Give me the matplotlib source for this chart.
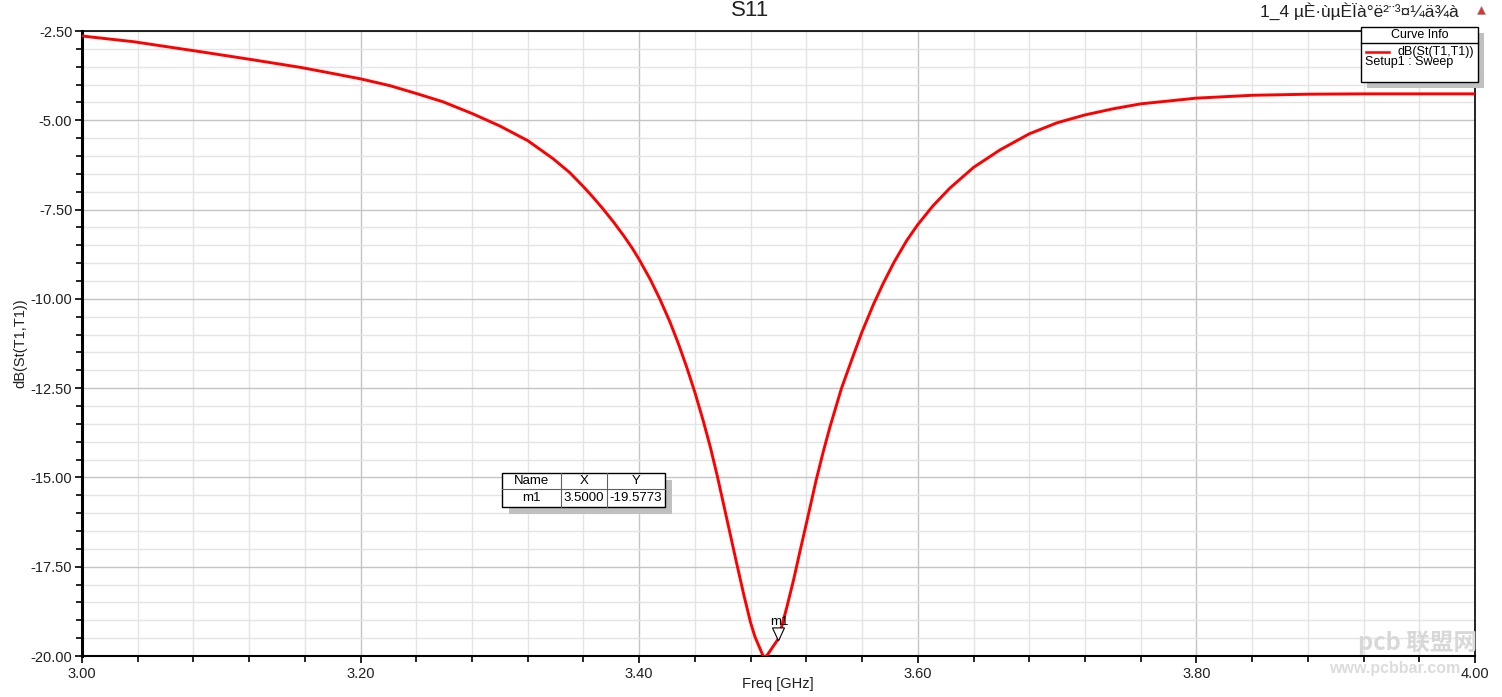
import matplotlib

matplotlib.use("Agg")
import matplotlib.pyplot as plt
from matplotlib.patches import Rectangle, Polygon
from matplotlib.ticker import MultipleLocator, FormatStrFormatter

plt.rcParams["font.family"] = ["Liberation Sans", "DejaVu Sans"]

# S11 curve
freq_ghz = [3.000, 3.037, 3.085, 3.120, 3.157, 3.180, 3.200, 3.221, 3.240, 3.259,
            3.280, 3.300, 3.320, 3.338, 3.350, 3.360, 3.367, 3.374, 3.382, 3.389,
            3.395, 3.400, 3.408, 3.415, 3.422, 3.428, 3.434, 3.440, 3.446, 3.451,
            3.456, 3.460, 3.465, 3.470, 3.475, 3.480, 3.483, 3.487, 3.4895, 3.492,
            3.500, 3.506, 3.511, 3.515, 3.520, 3.524, 3.527, 3.532, 3.537, 3.545,
            3.553, 3.560, 3.568, 3.575, 3.583, 3.592, 3.600, 3.611, 3.623, 3.640,
            3.659, 3.680, 3.700, 3.720, 3.740, 3.760, 3.800, 3.840, 3.880, 3.920,
            4.000]
s11_db = [-2.64, -2.80, -3.08, -3.29, -3.52, -3.69, -3.84, -4.03, -4.25, -4.48,
          -4.81, -5.16, -5.57, -6.07, -6.46, -6.86, -7.16, -7.48, -7.87, -8.24,
          -8.58, -8.90, -9.46, -10.02, -10.64, -11.24, -11.90, -12.62, -13.42, -14.14,
          -14.95, -15.65, -16.53, -17.41, -18.27, -19.07, -19.45, -19.82, -20.05, -19.97,
          -19.51, -18.63, -17.84, -17.14, -16.29, -15.60, -15.08, -14.30, -13.58, -12.53,
          -11.66, -10.92, -10.17, -9.58, -8.97, -8.37, -7.92, -7.39, -6.90, -6.32,
          -5.83, -5.38, -5.07, -4.85, -4.68, -4.54, -4.38, -4.30, -4.27, -4.26,
          -4.26]

marker_name = "m1"
marker_x = 3.5000
marker_y = -19.5773

W, H = 1502, 697
fig = plt.figure(figsize=(W / 100, H / 100), dpi=100)
fig.patch.set_facecolor("white")

# pixel frame of the plot area
L, R, T, B = 82, 1475, 31, 656
ax = fig.add_axes([L / W, 1 - B / H, (R - L) / W, (B - T) / H])
ax.plot(freq_ghz, s11_db, color="#ff0000", lw=2.1, zorder=3, solid_joinstyle="round")
ax.set_xlim(3.0, 4.0)
ax.set_ylim(-20.0, -2.5)

ax.xaxis.set_major_locator(MultipleLocator(0.2))
ax.xaxis.set_minor_locator(MultipleLocator(0.04))
ax.yaxis.set_major_locator(MultipleLocator(2.5))
ax.yaxis.set_minor_locator(MultipleLocator(0.5))
ax.xaxis.set_major_formatter(FormatStrFormatter("%.2f"))
ax.yaxis.set_major_formatter(FormatStrFormatter("%.2f"))

ax.grid(which="major", color="#c4c4c4", lw=1.0)
ax.grid(which="minor", color="#e4e4e4", lw=1.0)
ax.set_axisbelow(True)

ax.tick_params(which="major", direction="out", length=5, width=1.2, color="black",
               labelsize=10.5, labelcolor="#202020", pad=2)
ax.tick_params(which="minor", direction="out", length=4, width=1.2, color="black")
ax.tick_params(axis="x", pad=3)

for side, w in (("left", 2.2), ("bottom", 1.5), ("top", 1.2), ("right", 1.2)):
    ax.spines[side].set_linewidth(w)
    ax.spines[side].set_color("black")

# overlay in pixel coordinates for labels and annotation boxes
ov = fig.add_axes([0, 0, 1, 1], facecolor="none")
ov.set_xlim(0, W)
ov.set_ylim(H, 0)
ov.axis("off")

ov.text(778, 684, "Freq [GHz]", fontsize=10.5, ha="center", va="center", color="#202020")
ov.text(20, 343, "dB(St(T1,T1))", fontsize=10.5, ha="center", va="center", rotation=90,
        color="#202020")

ov.text(750, 11, "S11", fontsize=16, ha="center", va="center", color="#202020")
ov.text(1459, 11, "1_4 µÈ·ùµÈÏà°ë²¨³¤¼ä¾à", fontsize=12.5, ha="right", va="center",
        color="#202020")
ov.plot([1481], [10], marker="^", ms=6, color="#e03030", mec="#909090", mew=0.5)

# curve info box
ov.add_patch(Rectangle((1367, 33), 117, 55, fc="#c0c0c0", ec="none", zorder=4))
ov.add_patch(Rectangle((1361, 27), 117, 55, fc="white", ec="black", lw=1.0, zorder=5))
ov.plot([1361, 1478], [43, 43], color="black", lw=1.0, zorder=6)
ov.text(1419.5, 35, "Curve Info", fontsize=9, ha="center", va="center", zorder=6)
ov.plot([1366, 1389], [52, 52], color="#ff0000", lw=1.8, zorder=6)
ov.text(1474, 52, "dB(St(T1,T1))", fontsize=9, ha="right", va="center", zorder=6)
ov.text(1365, 62, "Setup1 : Sweep", fontsize=9, ha="left", va="center", zorder=6)

# marker table
tx0, tx1, tx2, tx3 = 502, 561, 607, 665
ty0, ty1, ty2 = 473, 489, 507
ov.add_patch(Rectangle((tx0 + 7, ty0 + 7), tx3 - tx0, ty2 - ty0, fc="#c0c0c0", ec="none", zorder=4))
ov.add_patch(Rectangle((tx0, ty0), tx3 - tx0, ty2 - ty0, fc="white", ec="black", lw=1.0, zorder=5))
ov.plot([tx0, tx3], [ty1, ty1], color="#606060", lw=0.8, zorder=6)
for cx in (tx1, tx2):
    ov.plot([cx, cx], [ty0, ty2], color="#606060", lw=0.8, zorder=6)
for x0, x1, head, val in ((tx0, tx1, "Name", marker_name),
                          (tx1, tx2, "X", f"{marker_x:.4f}"),
                          (tx2, tx3, "Y", f"{marker_y:.4f}")):
    ov.text((x0 + x1) / 2, (ty0 + ty1) / 2, head, fontsize=9.5, ha="center", va="center", zorder=6)
    ov.text((x0 + x1) / 2, (ty1 + ty2) / 2, val, fontsize=9.5, ha="center", va="center", zorder=6)

# marker glyph on the curve
mx, my = ax.transData.transform((marker_x, marker_y))
my = H - my
ov.add_patch(Polygon([(mx - 6, my - 13), (mx + 6, my - 13), (mx, my)], closed=True,
                     fc="white", ec="black", lw=0.8, zorder=6))
ov.text(mx + 1, my - 13, marker_name, fontsize=9.5, ha="center", va="bottom", zorder=6)

# site watermark
ov.text(1418, 643, "pcb 联盟网", fontsize=17, fontweight="bold", ha="center", va="center",
        color="#d8d8d8", family=["Noto Sans CJK SC", "DejaVu Sans"], zorder=7)
ov.text(1395, 668, "www.pcbbar.com", fontsize=11.5, fontweight="bold", ha="center", va="center",
        color="#dcdcdc", zorder=1)

fig.savefig("out.png", dpi=100, facecolor="white")
